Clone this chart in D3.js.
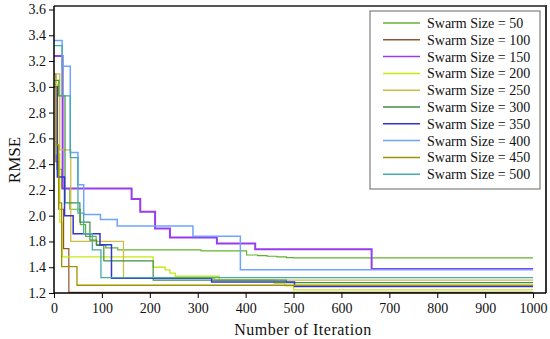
<!DOCTYPE html>
<html lang="en">
<head>
<meta charset="utf-8">
<script src="https://d3js.org/d3.v7.min.js"></script>
<title>RMSE vs iteration</title>
<style>
    body { margin: 0; background: #fff; }
    svg text { font-family: "Liberation Serif", "Times New Roman", Times, serif !important; fill: #111; }
</style>
</head>
<body>
<svg id="main" width="550" height="339"></svg>
<script>

// data: [iteration, RMSE] where the best value changes
const swarmSizes = [50, 100, 150, 200, 250, 300, 350, 400, 450, 500];

const s50  = [[0,3.02],[6,2.36],[16,2.21],[33,2.05],[55,1.93],[66,1.84],[88,1.75],[108,1.70],[133,1.67],[307,1.655],[402,1.59],[425,1.58],[445,1.57],[465,1.56],[485,1.55],[500,1.545],[1000,1.545]];
const s100 = [[0,3.10],[4,2.42],[10,2.05],[20,1.69],[31,1.205],[1000,1.205]];
const s150 = [[0,3.24],[18,2.21],[162,2.13],[180,2.03],[211,1.90],[242,1.83],[340,1.77],[420,1.68],[663,1.387],[1000,1.387]];
const s200 = [[0,3.06],[5,2.48],[12,1.95],[17,1.56],[207,1.40],[232,1.38],[242,1.355],[253,1.33],[345,1.30],[460,1.275],[482,1.255],[500,1.225],[1000,1.225]];
const s250 = [[0,3.10],[12,2.51],[35,1.80],[145,1.315],[335,1.30],[1000,1.30]];
const s300 = [[0,3.05],[10,2.93],[23,2.10],[54,1.95],[75,1.81],[89,1.74],[104,1.50],[207,1.30],[485,1.28],[1000,1.28]];
const s350 = [[0,3.00],[7,2.30],[22,2.00],[40,1.86],[96,1.75],[120,1.315],[329,1.285],[502,1.25],[1000,1.25]];
const s400 = [[0,3.36],[17,3.16],[34,2.49],[50,2.24],[62,2.01],[97,1.97],[132,1.92],[290,1.84],[389,1.38],[1000,1.38]];
const s450 = [[0,3.00],[5,2.55],[10,2.10],[16,1.41],[48,1.26],[1000,1.26]];
const s500 = [[0,3.32],[17,2.93],[34,2.45],[50,2.02],[62,1.86],[80,1.67],[98,1.32],[1000,1.32]];

const seriesData = [s50, s100, s150, s200, s250, s300, s350, s400, s450, s500];

// tick labels as printed on the original axis (no 1.6 label)
const yTickValues = [1.2, 1.4, 1.8, 2.0, 2.2, 2.4, 2.6, 2.8, 3.0, 3.2, 3.4, 3.6];
const xTickValues = [0, 100, 200, 300, 400, 500, 600, 700, 800, 900, 1000];

let lineColors = ['#62b430', '#94532a', '#9a3cec', '#c6ea10', '#cdbd45',
                  '#3f8f45', '#3434d2', '#6ea4ff', '#9f9400', '#46acac'];
let lineWidths = [1.2, 1.2, 2, 1.3, 1.3, 1.2, 1.5, 1.5, 1.3, 1.3];

let svg = d3.select('svg#main');
let plotLeft = 54, plotRight = 546, plotTop = 6, plotBottom = 293;
let step = (plotBottom - 9.5) / 11;

let xScale = d3.scaleLinear().domain([0, 1027]).range([plotLeft, plotRight]);
// piecewise so that the evenly spaced ticks keep the printed labels
let yScale = d3.scaleLinear()
    .domain([1.2, 1.4, 1.8, 3.6])
    .range([plotBottom, plotBottom - step, plotBottom - 2 * step, 9.5]);

let line = d3.line()
    .curve(d3.curveStepAfter)
    .x(d => xScale(d[0]))
    .y(d => yScale(d[1]));

svg.append('g').selectAll('path')
    .data(seriesData)
    .enter()
    .append('path')
    .attr('fill', 'none')
    .attr('stroke', (d, i) => lineColors[i])
    .attr('stroke-width', (d, i) => lineWidths[i])
    .attr('d', line);

// frame top and right
svg.append('line').attr('x1', plotLeft).attr('x2', plotRight).attr('y1', plotTop).attr('y2', plotTop)
    .attr('stroke', '#555').attr('stroke-width', 2);
svg.append('line').attr('x1', plotRight).attr('x2', plotRight).attr('y1', plotTop - 1).attr('y2', plotBottom)
    .attr('stroke', '#333').attr('stroke-width', 2);

let xAxis = svg.append('g')
    .attr('transform', 'translate(0,' + plotBottom + ')')
    .call(d3.axisBottom(xScale).tickValues(xTickValues).tickFormat(d3.format('d')).tickSize(5).tickSizeOuter(0));
let yAxis = svg.append('g')
    .attr('transform', 'translate(' + plotLeft + ',0)')
    .call(d3.axisLeft(yScale).tickValues(yTickValues).tickFormat(d3.format('.1f')).tickSize(5).tickSizeOuter(0));

[xAxis, yAxis].forEach(a => {
    a.attr('font-family', null);
    a.select('.domain').attr('stroke', '#000').attr('stroke-width', 1.5);
    a.selectAll('.tick line').attr('stroke', '#000');
    a.selectAll('text').attr('font-size', 14).attr('fill', '#111');
});
xAxis.select('.domain').attr('d', 'M' + plotLeft + ',0H' + plotRight);
yAxis.select('.domain').attr('d', 'M0,' + plotBottom + 'V' + plotTop);
xAxis.selectAll('text').attr('dy', '0.85em');

svg.append('text')
    .attr('x', 303).attr('y', 335)
    .attr('text-anchor', 'middle')
    .attr('font-size', 16)
    .attr('letter-spacing', 0.5)
    .text('Number of Iteration');

svg.append('text')
    .attr('transform', 'translate(20,160) rotate(-90)')
    .attr('text-anchor', 'middle')
    .attr('font-size', 17)
    .text('RMSE');

// legend
let legend = svg.append('g');
legend.append('rect')
    .attr('x', 370).attr('y', 11).attr('width', 170).attr('height', 178)
    .attr('fill', '#fff').attr('stroke', '#666').attr('stroke-width', 1);

let entries = legend.selectAll('.lineLegend').data(swarmSizes)
    .enter().append('g')
    .attr('class', 'lineLegend')
    .attr('transform', (d, i) => 'translate(0,' + (23 + i * 16.8) + ')');

entries.append('line')
    .attr('x1', 383).attr('x2', 420)
    .attr('stroke', (d, i) => lineColors[i])
    .attr('stroke-width', 1.5);

entries.append('text')
    .attr('x', 427).attr('dy', '0.35em')
    .attr('font-size', 14)
    .text(d => 'Swarm Size = ' + d);

</script>
</body>
</html>
